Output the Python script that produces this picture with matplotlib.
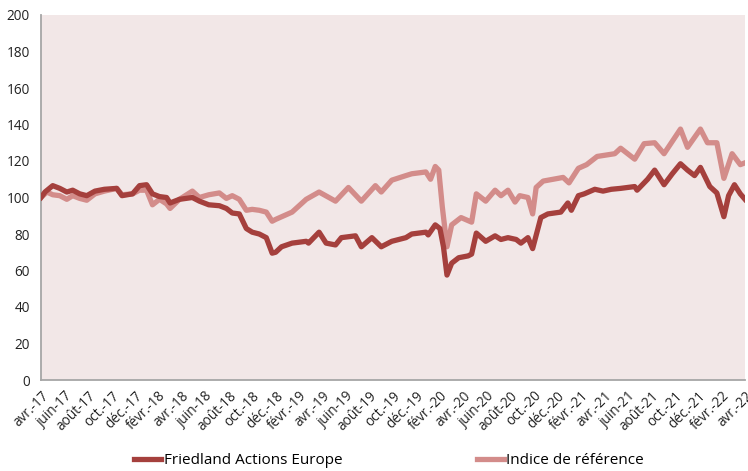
import matplotlib
matplotlib.use("Agg")
import matplotlib.pyplot as plt
import numpy as np

plt.rcParams['font.family'] = ['Open Sans', 'DejaVu Sans']

# months elapsed since April 2017
fund_months = [0, 0.34, 1.0, 1.6, 2.2, 2.7, 3.3, 3.9, 4.6, 5.4, 6.45, 6.9, 7.8, 8.4, 9.0, 9.5,
               10.1, 10.7, 11.0, 11.8, 12.9, 13.5, 14.3, 15.2, 15.8, 16.3, 16.9, 17.5, 18.0,
               18.6, 19.2, 19.7, 20.0, 20.5, 21.4, 22.6, 22.8, 23.7, 24.3, 25.1, 25.6, 26.8,
               27.3, 28.2, 29.0, 29.9, 31.1, 31.6, 32.8, 33.0, 33.6, 34.0, 34.3, 34.6, 35.0,
               35.6, 36.4, 36.7, 37.1, 37.9, 38.7, 39.2, 39.8, 40.5, 40.9, 41.5, 41.9, 42.6,
               43.2, 44.3, 44.9, 45.2, 45.8, 46.3, 47.2, 47.9, 48.6, 49.4, 50.6, 50.8, 51.7,
               52.3, 53.1, 53.8, 54.5, 55.1, 55.7, 56.2, 57.0, 57.6, 58.2, 58.6, 59.1, 59.6, 60.0]
fund_values = [100, 103, 106.5, 105, 103, 104, 102, 101, 103.5, 104.5, 105, 101, 102, 106.5, 107, 102,
               100.5, 100, 97, 99, 100, 98, 96, 95.5, 94, 91.5, 91, 83, 81,
               80, 78, 69.5, 70, 73, 75, 76, 75, 81, 75, 74, 78, 79,
               73, 78, 73, 76, 78, 80, 81, 79.5, 85, 83, 73, 57.5, 64,
               67, 68, 69, 80.5, 76, 79, 77, 78, 77, 75, 78, 72, 89,
               91, 92, 97, 93, 101, 102, 104.5, 103.5, 104.5, 105, 106, 104, 110,
               115, 107, 113, 118.5, 115, 112, 116.5, 106, 102.5, 89.5, 101, 107, 102, 99]

index_months = [0, 0.5, 1.0, 1.6, 2.2, 2.7, 3.3, 3.9, 4.6, 5.4, 6.45, 6.9, 7.8, 8.4, 9.0, 9.5,
                10.1, 10.7, 11.0, 11.8, 12.9, 13.5, 14.3, 15.2, 15.8, 16.3, 16.9, 17.5, 18.0,
                18.6, 19.2, 19.7, 20.0, 21.4, 22.6, 23.7, 25.1, 26.2, 27.3, 28.5, 29.0, 29.9,
                31.1, 31.6, 32.8, 33.2, 33.6, 33.9, 34.2, 34.6, 35.0, 35.8, 36.7, 37.1, 37.9,
                38.7, 39.2, 39.8, 40.4, 40.8, 41.5, 41.9, 42.2, 42.8, 44.5, 45.0, 45.8, 46.5,
                47.4, 48.9, 49.4, 50.6, 51.4, 52.3, 53.1, 54.5, 55.1, 56.2, 56.8, 57.6, 58.2,
                58.9, 59.6, 60.0]
index_values = [100, 103, 101.5, 101, 99, 101, 99.5, 98.5, 102, 103.5, 105, 101.5, 102, 104, 104, 96,
                99, 96.5, 94, 99, 103.5, 100, 101.5, 102.5, 99.5, 101, 99, 93, 93.5,
                93, 92, 87, 88, 92, 99, 103, 98, 105.5, 98, 106.5, 103, 109.5,
                112, 113, 114, 110, 117, 115, 95, 73, 85, 89, 86.5, 102, 98,
                104, 101, 104, 97.5, 101, 100, 91, 105.5, 109, 111, 108, 116, 118,
                122.5, 124, 127, 121, 129.5, 130, 124, 137.5, 127.5, 137.5, 130, 130, 110.5,
                124, 118, 119]

tick_labels = ['avr.-17', 'juin-17', 'août-17', 'oct.-17', 'déc.-17', 'févr.-18',
               'avr.-18', 'juin-18', 'août-18', 'oct.-18', 'déc.-18', 'févr.-19',
               'avr.-19', 'juin-19', 'août-19', 'oct.-19', 'déc.-19', 'févr.-20',
               'avr.-20', 'juin-20', 'août-20', 'oct.-20', 'déc.-20', 'févr.-21',
               'avr.-21', 'juin-21', 'août-21', 'oct.-21', 'déc.-21', 'févr.-22', 'avr.-22']

series_names = ['Friedland Actions Europe', 'Indice de référence']

dark = '#a5403d'
light = '#d38c8a'
bg = '#f2e7e7'

fig = plt.figure(figsize=(7.48, 4.71), dpi=100)
ax = fig.add_axes([41/748, 1-380/471, 1-41/748 - 0.004, (380-15)/471])
ax.set_facecolor(bg)

ax.plot(fund_months, fund_values, color=dark, lw=3.8, label=series_names[0],
        solid_joinstyle='round', zorder=3)
ax.plot(index_months, index_values, color=light, lw=3.8, label=series_names[1],
        solid_joinstyle='round', zorder=2)

ax.set_xlim(0, 60)
ax.set_ylim(0, 200)
ax.set_yticks(np.arange(0, 201, 20))
ax.set_xticks(np.arange(0, 61, 2))
ax.set_xticklabels(tick_labels, rotation=45, ha='right', va='top',
                   rotation_mode='anchor', fontsize=9.8, color='#222222')
ax.tick_params(axis='both', length=0, labelsize=9.8, colors='#222222')
ax.tick_params(axis='y', pad=8)
ax.tick_params(axis='x', pad=6)
for s in ['top', 'right']:
    ax.spines[s].set_visible(False)
for s in ['left', 'bottom']:
    ax.spines[s].set_color('#a6a6a6')
    ax.spines[s].set_linewidth(1.3)

fig.legend(loc='center', bbox_to_anchor=(0.52, 1-461/471), ncol=2, frameon=False,
           fontsize=11, handlelength=1.8, handletextpad=0.15, columnspacing=8.8)

fig.savefig('out.png', dpi=100)
